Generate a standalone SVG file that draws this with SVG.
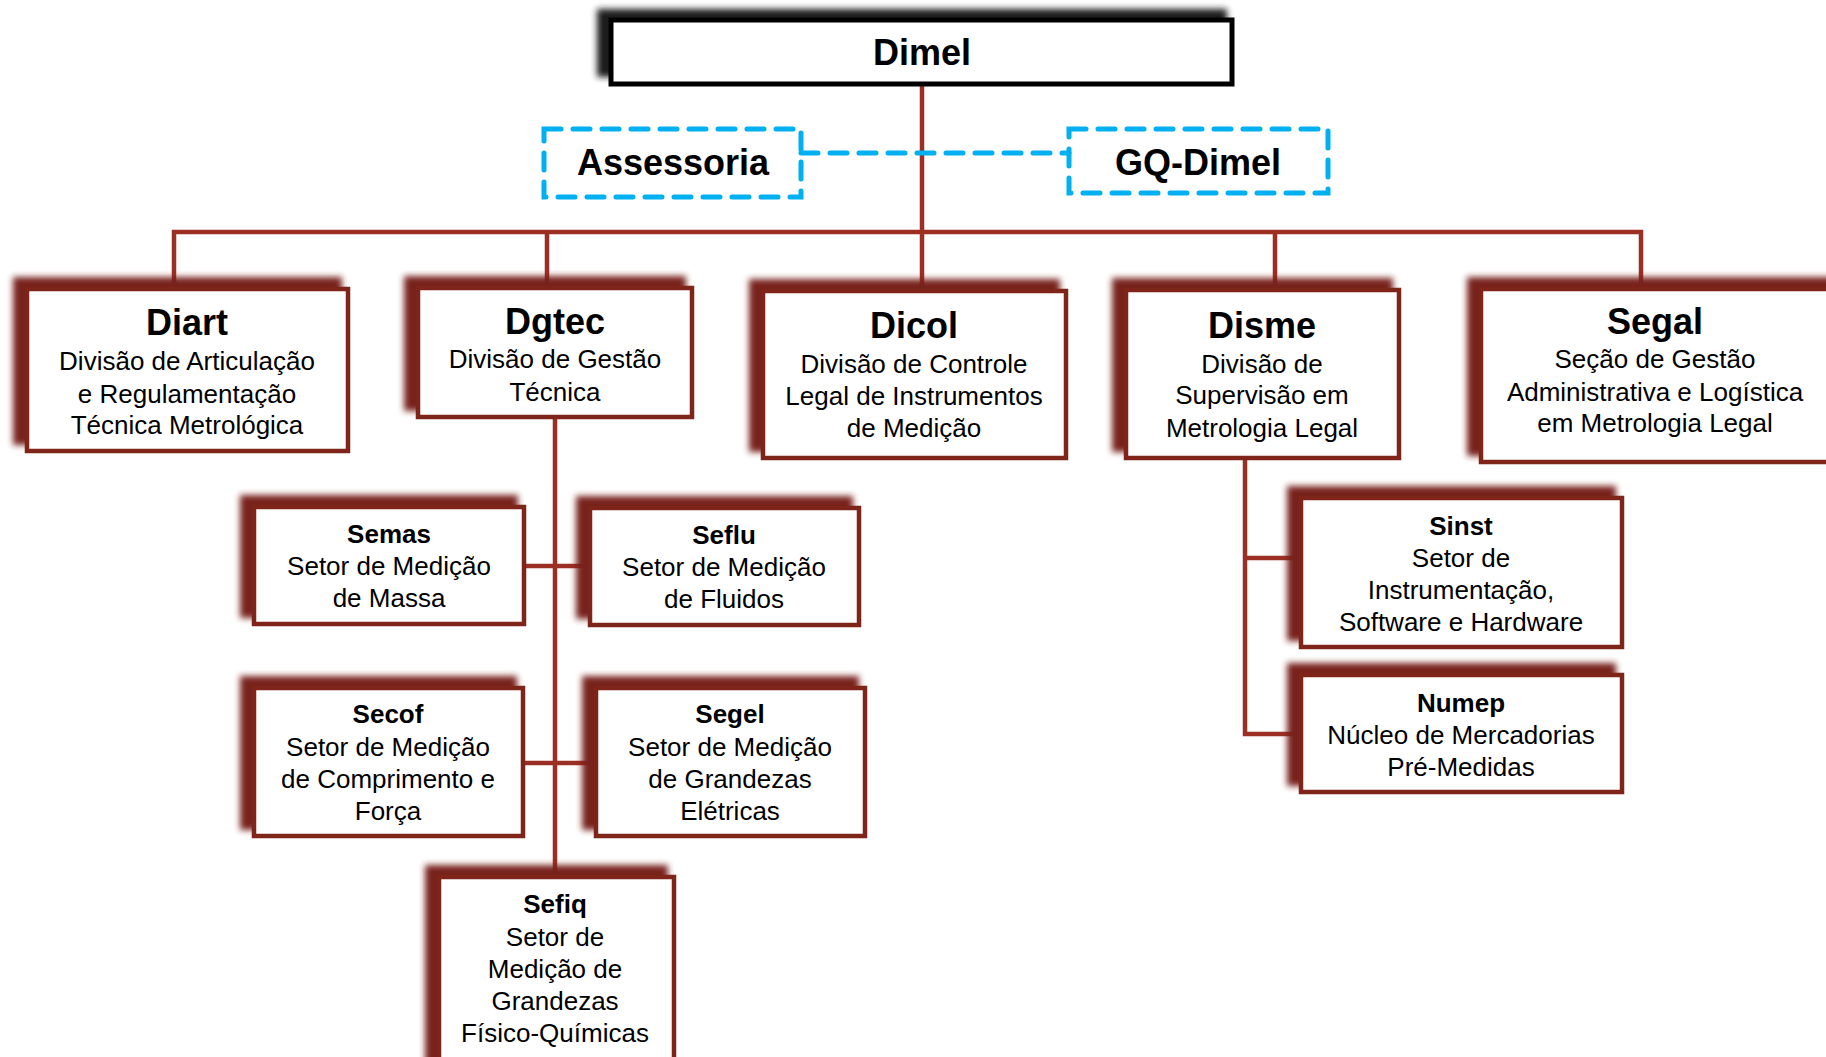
<svg xmlns="http://www.w3.org/2000/svg" width="1826" height="1057" viewBox="0 0 1826 1057">
<defs>
<filter id="blur" x="-10%" y="-20%" width="120%" height="140%"><feGaussianBlur stdDeviation="3"/></filter>
<style>
.sh{fill:#78231a;filter:url(#blur)}
.shk{fill:#1a1a1a;filter:url(#blur)}
.bx{fill:#fff;stroke:#7e2419;stroke-width:4.5}
.bk{fill:#fff;stroke:#000;stroke-width:5}
.ds{fill:none;stroke:#00b0f0;stroke-width:5;stroke-dasharray:17 12;stroke-linecap:round}
.ln{fill:none;stroke:#9c2f24;stroke-width:4.5}
text{font-family:"Liberation Sans",Arial,sans-serif;text-anchor:middle;fill:#000}
.t1{font-size:36px;font-weight:bold}
.t2{font-size:26px;font-weight:bold}
.b{font-size:26px}
</style>
</defs>
<rect width="1826" height="1057" fill="#fff"/>
<g id="connectors">
<path class="ln" d="M922 84 V291 M174 289 V232 H1641 V289 M547 232 V288 M1275 232 V290"/>
<path class="ln" d="M555 417 V877 M524 566 H590 M523 763 H596"/>
<path class="ln" d="M1245 458 V734 H1301 M1245 558 H1301"/>
<path class="ds" d="M801 153 H1069"/>
</g>
<g id="dimel">
<rect class="shk" x="597" y="9" width="630" height="68"/>
<rect class="bk" x="611" y="20" width="621" height="64"/>
<text class="t1" x="922" y="65">Dimel</text>
</g>
<g id="assessoria">
<rect class="ds" x="544" y="129" width="257" height="68"/>
<text class="t1" x="673" y="175">Assessoria</text>
</g>
<g id="gq-dimel">
<rect class="ds" x="1069" y="129" width="259" height="64"/>
<text class="t1" x="1198" y="175">GQ-Dimel</text>
</g>
<g id="diart">
<rect class="sh" x="13" y="277" width="329" height="168"/>
<rect class="bx" x="27" y="289" width="321" height="162"/>
<text class="t1" x="187" y="335">Diart</text>
<text class="b" x="187" y="370">Divisão de Articulação</text>
<text class="b" x="187" y="403">e Regulamentação</text>
<text class="b" x="187" y="434">Técnica Metrológica</text>
</g>
<g id="dgtec">
<rect class="sh" x="404" y="276" width="282" height="135"/>
<rect class="bx" x="418" y="288" width="274" height="129"/>
<text class="t1" x="555" y="334">Dgtec</text>
<text class="b" x="555" y="368">Divisão de Gestão</text>
<text class="b" x="555" y="401">Técnica</text>
</g>
<g id="dicol">
<rect class="sh" x="749" y="279" width="311" height="173"/>
<rect class="bx" x="763" y="291" width="303" height="167"/>
<text class="t1" x="914" y="338">Dicol</text>
<text class="b" x="914" y="373">Divisão de Controle</text>
<text class="b" x="914" y="405">Legal de Instrumentos</text>
<text class="b" x="914" y="437">de Medição</text>
</g>
<g id="disme">
<rect class="sh" x="1112" y="278" width="281" height="174"/>
<rect class="bx" x="1126" y="290" width="273" height="168"/>
<text class="t1" x="1262" y="338">Disme</text>
<text class="b" x="1262" y="373">Divisão de</text>
<text class="b" x="1262" y="404">Supervisão em</text>
<text class="b" x="1262" y="437">Metrologia Legal</text>
</g>
<g id="segal">
<rect class="sh" x="1467" y="277" width="380" height="179"/>
<rect class="bx" x="1481" y="289" width="370" height="173"/>
<text class="t1" x="1655" y="334">Segal</text>
<text class="b" x="1655" y="368">Seção de Gestão</text>
<text class="b" x="1655" y="401">Administrativa e Logística</text>
<text class="b" x="1655" y="432">em Metrologia Legal</text>
</g>
<g id="semas">
<rect class="sh" x="240" y="495" width="278" height="123"/>
<rect class="bx" x="254" y="507" width="270" height="117"/>
<text class="t2" x="389" y="543">Semas</text>
<text class="b" x="389" y="575">Setor de Medição</text>
<text class="b" x="389" y="607">de Massa</text>
</g>
<g id="seflu">
<rect class="sh" x="576" y="496" width="277" height="123"/>
<rect class="bx" x="590" y="508" width="269" height="117"/>
<text class="t2" x="724" y="544">Seflu</text>
<text class="b" x="724" y="576">Setor de Medição</text>
<text class="b" x="724" y="608">de Fluidos</text>
</g>
<g id="secof">
<rect class="sh" x="240" y="676" width="277" height="154"/>
<rect class="bx" x="254" y="688" width="269" height="148"/>
<text class="t2" x="388" y="723">Secof</text>
<text class="b" x="388" y="756">Setor de Medição</text>
<text class="b" x="388" y="788">de Comprimento e</text>
<text class="b" x="388" y="820">Força</text>
</g>
<g id="segel">
<rect class="sh" x="582" y="676" width="277" height="154"/>
<rect class="bx" x="596" y="688" width="269" height="148"/>
<text class="t2" x="730" y="723">Segel</text>
<text class="b" x="730" y="756">Setor de Medição</text>
<text class="b" x="730" y="788">de Grandezas</text>
<text class="b" x="730" y="820">Elétricas</text>
</g>
<g id="sefiq">
<rect class="sh" x="425" y="865" width="243" height="200"/>
<rect class="bx" x="439" y="877" width="235" height="200"/>
<text class="t2" x="555" y="913">Sefiq</text>
<text class="b" x="555" y="946">Setor de</text>
<text class="b" x="555" y="978">Medição de</text>
<text class="b" x="555" y="1010">Grandezas</text>
<text class="b" x="555" y="1042">Físico-Químicas</text>
</g>
<g id="sinst">
<rect class="sh" x="1287" y="486" width="329" height="155"/>
<rect class="bx" x="1301" y="498" width="321" height="149"/>
<text class="t2" x="1461" y="535">Sinst</text>
<text class="b" x="1461" y="567">Setor de</text>
<text class="b" x="1461" y="599">Instrumentação,</text>
<text class="b" x="1461" y="631">Software e Hardware</text>
</g>
<g id="numep">
<rect class="sh" x="1287" y="663" width="329" height="123"/>
<rect class="bx" x="1301" y="675" width="321" height="117"/>
<text class="t2" x="1461" y="712">Numep</text>
<text class="b" x="1461" y="744">Núcleo de Mercadorias</text>
<text class="b" x="1461" y="776">Pré-Medidas</text>
</g>
</svg>
